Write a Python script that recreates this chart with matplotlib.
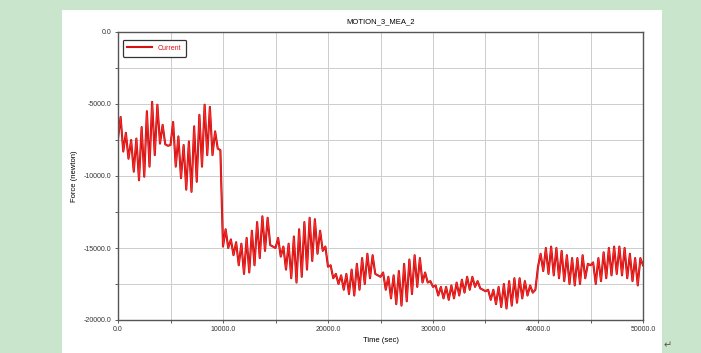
import numpy as np
import matplotlib
matplotlib.use('Agg')
import matplotlib.pyplot as plt
from matplotlib.patches import Rectangle
from matplotlib.lines import Line2D
from matplotlib.ticker import MultipleLocator, FuncFormatter

plt.rcParams['font.family'] = ['Liberation Sans', 'DejaVu Sans']

# sample spacing of the exported measure (sec)
dt = 250.0

# MOTION_3_MEA_2 force, one list per 10000 sec block (newton)
force_0_10k = [
    -7400, -5900, -8300, -7000, -8800, -7500, -9700, -7400, -10300, -6600,
    -10050, -5500, -9350, -4850, -8550, -5050, -7750, -6450, -7800, -7900,
    -7850, -6250, -9350, -7250, -10150, -7850, -10950, -7600, -11100, -6550,
    -10400, -5750, -9350, -5050, -8550, -5200, -8550, -6900, -8100, -8200,
]
force_10k_20k = [
    -14900, -13700, -15000, -14400, -15500, -14600, -16200, -14700, -16800, -14300,
    -16700, -13800, -16200, -13200, -15700, -12800, -15200, -12900, -14800, -14900,
    -15000, -14300, -15600, -14900, -16500, -14700, -17100, -14200, -17400, -13700,
    -17000, -13200, -16500, -12900, -15900, -13000, -15400, -13800, -15200, -14900,
]
force_20k_30k = [
    -16300, -16200, -17100, -16800, -17500, -16900, -17900, -16800, -18200, -16500,
    -18300, -16100, -17900, -15700, -17500, -15400, -17100, -15500, -16800, -16900,
    -17000, -16700, -17900, -17000, -18500, -16900, -18900, -16600, -19000, -16100,
    -18700, -15800, -18200, -15500, -17700, -15700, -17400, -16700, -17400, -17300,
]
force_30k_40k = [
    -17700, -17600, -18300, -17700, -18500, -17700, -18600, -17600, -18500, -17400,
    -18300, -17200, -18100, -17000, -17900, -17000, -17700, -17300, -17800, -17900,
    -18000, -17900, -18600, -17900, -18900, -17700, -19100, -17500, -19200, -17300,
    -19000, -17100, -18800, -17100, -18500, -17300, -18300, -17600, -18100, -17900,
]
force_40k_50k = [
    -16300, -15400, -16600, -15000, -16800, -14900, -16900, -15000, -17100, -15200,
    -17300, -15500, -17500, -15700, -17600, -15700, -17500, -15500, -17100, -16100,
    -16200, -16000, -17500, -15700, -17300, -15300, -17100, -15000, -16900, -14900,
    -16800, -14900, -16900, -15000, -17100, -15400, -17300, -15700, -17600, -15700,
    -16200,
]

force = np.concatenate([force_0_10k, force_10k_20k, force_20k_30k,
                        force_30k_40k, force_40k_50k])
time = np.arange(len(force)) * dt

x_ticks = [0, 10000, 20000, 30000, 40000, 50000]
y_ticks = [0, -5000, -10000, -15000, -20000]

W, H = 701, 353
fig = plt.figure(figsize=(W / 100, H / 100), dpi=100)
fig.patch.set_facecolor('#c9e5cb')

# white page behind the plot
page = fig.add_axes([62 / W, 0, 600 / W, 1 - 10 / H], zorder=0)
page.set_axis_off()
page.add_patch(Rectangle((0, 0), 1, 1, transform=page.transAxes,
                         facecolor='white', edgecolor='none'))

ax = fig.add_axes([118 / W, 1 - 320 / H, 525 / W, 288 / H], zorder=1)
# darker under-stroke gives the curve its rim
ax.plot(time, force, color='#b80808', lw=1.5)
ax.plot(time, force, color='#ff2626', lw=0.8)

ax.set_xlim(0, 50000)
ax.set_ylim(-20000, 0)
ax.set_xticks(x_ticks)
ax.set_yticks(y_ticks)
ax.xaxis.set_minor_locator(MultipleLocator(5000))
ax.yaxis.set_minor_locator(MultipleLocator(2500))
fmt = FuncFormatter(lambda v, _: f"{v:.1f}")
ax.xaxis.set_major_formatter(fmt)
ax.yaxis.set_major_formatter(fmt)
ax.grid(True, which='both', color='#cdcdcd', lw=0.7)
ax.set_axisbelow(True)
ax.tick_params(which='both', direction='out', length=2.5, width=0.6,
               color='#444444', labelsize=5, labelcolor='#333333', pad=2)

for s in ax.spines.values():
    s.set_color('#555555')
    s.set_linewidth(1.0)

ax.set_title('MOTION_3_MEA_2', fontsize=5.5, pad=6)
ax.set_xlabel('Time (sec)', fontsize=5.5, labelpad=3)
ax.set_ylabel('Force (newton)', fontsize=5.5, labelpad=4)

handle = Line2D([], [], color='#d81010', lw=1.5)
leg = ax.legend([handle], ['Current'], loc='upper left', fontsize=5,
                handlelength=3.6, borderpad=0.7, fancybox=True,
                framealpha=1, edgecolor='#333333',
                bbox_to_anchor=(0.002, 0.985))
leg.get_frame().set_linewidth(0.9)
for txt in leg.get_texts():
    txt.set_color('#e01010')

fig.text(668 / W, 1 - 345 / H, '\u21b5', fontsize=7, color='#555555',
         family='DejaVu Sans', ha='center', va='center')

fig.savefig('out.png', dpi=100, facecolor=fig.get_facecolor())
